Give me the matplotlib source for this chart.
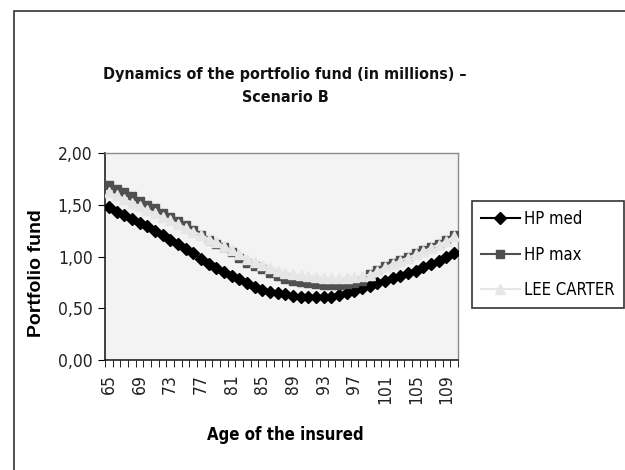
import numpy as np
import matplotlib
matplotlib.use('Agg')
from matplotlib import pyplot as plt
from matplotlib import font_manager
from matplotlib.patches import Rectangle
from matplotlib.ticker import FuncFormatter

ages = list(range(65, 111))

hp_med = [1.48, 1.43, 1.40, 1.36, 1.32, 1.29, 1.25, 1.21, 1.16, 1.12,
          1.07, 1.03, 0.98, 0.93, 0.89, 0.85, 0.81, 0.78, 0.74, 0.71,
          0.68, 0.66, 0.645, 0.635, 0.62, 0.612, 0.605, 0.605, 0.605, 0.612,
          0.628, 0.644, 0.67, 0.692, 0.715, 0.741, 0.766, 0.789, 0.812, 0.837,
          0.863, 0.895, 0.928, 0.96, 0.992, 1.037]

hp_max = [1.69, 1.65, 1.62, 1.58, 1.54, 1.50, 1.465, 1.42, 1.385, 1.345,
          1.305, 1.26, 1.21, 1.16, 1.12, 1.09, 1.04, 0.99, 0.94, 0.91,
          0.88, 0.84, 0.81, 0.78, 0.765, 0.75, 0.74, 0.73, 0.725, 0.725,
          0.725, 0.73, 0.74, 0.76, 0.83, 0.87, 0.905, 0.94, 0.97, 1.0,
          1.03, 1.06, 1.095, 1.125, 1.16, 1.21]

lee_carter = [1.62, 1.59, 1.56, 1.52, 1.49, 1.45, 1.42, 1.38, 1.35, 1.31,
              1.28, 1.24, 1.21, 1.17, 1.14, 1.10, 1.06, 1.02, 0.98, 0.95,
              0.92, 0.89, 0.86, 0.845, 0.83, 0.82, 0.81, 0.80, 0.795, 0.79,
              0.79, 0.795, 0.80, 0.81, 0.825, 0.86, 0.895, 0.93, 0.96, 0.99,
              1.02, 1.05, 1.085, 1.115, 1.15, 1.195]

labels = ['HP med', 'HP max', 'LEE CARTER']
title = 'Dynamics of the portfolio fund (in millions) \u2013\nScenario B'


# look for a narrow face (Arial Narrow look-alike), else plain Liberation Sans
def find_font(bold):
    for f in font_manager.fontManager.ttflist:
        fn = f.fname.lower()
        if ('narrow' in fn or 'condensed' in fn) and f.style == 'normal':
            isbold = f.weight in ('bold', 700) or 'bold' in fn
            if isbold == bold and 'semi' not in fn and 'extra' not in fn:
                return font_manager.FontProperties(fname=f.fname), True
    fp = font_manager.FontProperties(family=['Liberation Sans', 'DejaVu Sans'],
                                     weight='bold' if bold else 'normal')
    return fp, False


fp_reg, has_narrow = find_font(False)
fp_bold, has_narrow_b = find_font(True)


def fprop(base, size):
    p = base.copy()
    p.set_size(size)
    return p


W, H = 625, 470
fig = plt.figure(figsize=(6.25, 4.7), dpi=100)
fig.patch.set_facecolor('white')

# outer chart frame (only left and top edges visible)
fig.add_artist(Rectangle((14 / W, -0.1), 1.2, (470 - 11) / H + 0.1,
                         transform=fig.transFigure, fill=False,
                         edgecolor='#333333', linewidth=1.2))

ax = fig.add_axes([105 / W, (470 - 360) / H, (458 - 105) / W, (360 - 153) / H])
ax.set_facecolor('#f3f3f3')

ax.plot(ages, hp_med, color='black', marker='D', markersize=6, linewidth=1.5,
        label=labels[0], zorder=3)
ax.plot(ages, hp_max, color='#505050', marker='s', markersize=6, linewidth=1.5,
        label=labels[1], zorder=4)
ax.plot(ages, lee_carter, color='#e6e6e6', marker='^', markersize=7, linewidth=1.5,
        label=labels[2], zorder=5)

ax.set_xlim(64.5, 110.5)
ax.set_ylim(0, 2)

ax.set_yticks(np.arange(0, 2.01, 0.5))
ax.yaxis.set_major_formatter(FuncFormatter(lambda v, p: f'{v:.2f}'.replace('.', ',')))
ax.set_xticks(ages[::4])
ax.set_xticks(np.arange(64.5, 110.6, 1), minor=True)
ax.tick_params(axis='x', which='major', length=0, pad=10, labelrotation=90)
ax.tick_params(axis='x', which='minor', length=5, direction='out', color='black')
ax.tick_params(axis='y', length=5, direction='out', color='black', pad=4)

tick_size = 12.5 if has_narrow else 11.5
for lab in ax.get_xticklabels() + ax.get_yticklabels():
    lab.set_fontproperties(fprop(fp_reg, tick_size))
    lab.set_color('#222222')

for side in ['top', 'right']:
    ax.spines[side].set_color('#8c8c8c')
    ax.spines[side].set_linewidth(1)
for side in ['left', 'bottom']:
    ax.spines[side].set_color('#222222')
    ax.spines[side].set_linewidth(1.2)

ax.set_ylabel('Portfolio fund', family=['Liberation Sans', 'DejaVu Sans'],
              fontweight='bold', fontsize=14)
ax.yaxis.set_label_coords(-0.17, 0.42)

big = 12 if has_narrow_b else 11
ax.set_xlabel('Age of the insured', fontproperties=fprop(fp_bold, big))
ax.xaxis.set_label_coords(0.51, -0.32)

fig.text(285 / W, (470 - 86) / H, title, ha='center', va='center',
         fontproperties=fprop(fp_bold, 11.5 if has_narrow_b else 10.5),
         linespacing=1.6, color='#111111')

leg = ax.legend(loc='upper left', bbox_to_anchor=(472 / W, (470 - 201) / H),
                bbox_transform=fig.transFigure, frameon=True, fancybox=False,
                edgecolor='black', borderpad=0.55, labelspacing=1.05,
                handlelength=2.3, handletextpad=0.3, borderaxespad=0,
                prop=fprop(fp_reg, 12 if has_narrow else 11))
leg.get_frame().set_linewidth(1.2)

fig.savefig('out.png', dpi=100)
